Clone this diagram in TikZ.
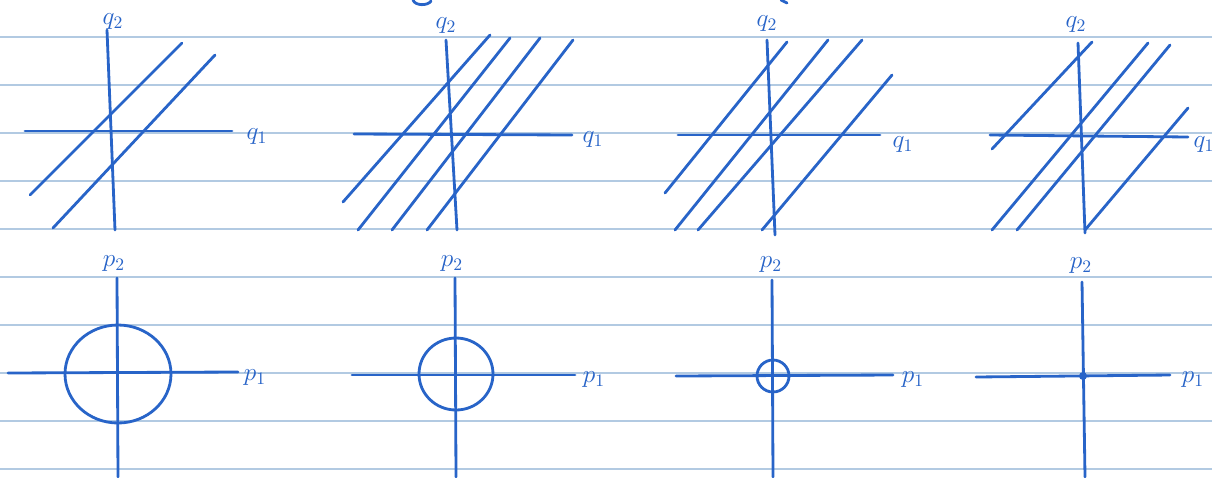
\documentclass[tikz,border=0pt]{standalone}
\definecolor{ink}{RGB}{40,100,200}
\definecolor{ruling}{RGB}{178,202,226}
\begin{document}
\begin{tikzpicture}[x=0.02cm,y=-0.02cm,
  pen/.style={draw=ink, line width=1.6pt, line cap=round},
  lbl/.style={text=ink, inner sep=0pt, font=\fontsize{14}{14}\selectfont}]
\useasboundingbox (0,0) rectangle (1212,477);
\fill[white] (0,0) rectangle (1212,477);
% ruled paper
\foreach \y in {37,85,...,469}
  \draw[ruling, line width=0.8pt] (0,\y) -- (1212,\y);
% bits of writing cut off above
\draw[pen] (413,0) .. controls (415,6) and (428,6) .. (431,1);
\draw[pen] (781,0) -- (787,3);

% top row: q plane
\node[lbl] (q2a) at (113,22) {$q_2$};
\node[lbl] (q1a) at (257,137) {$q_1$};
\draw[pen] (107,30) -- (115,230);
\draw[pen] (25,131) -- (232,131);
\draw[pen] (30,195) -- (182,43);
\draw[pen] (53,228) -- (215,55);

\node[lbl] (q2b) at (446,26) {$q_2$};
\node[lbl] (q1b) at (593,140) {$q_1$};
\draw[pen] (446,40) -- (457,230);
\draw[pen] (354,134) -- (572,135);
\draw[pen] (343,202) -- (490,35);
\draw[pen] (358,230) -- (510,38);
\draw[pen] (392,230) -- (540,38);
\draw[pen] (427,230) -- (573,40);

\node[lbl] (q2c) at (767,24) {$q_2$};
\node[lbl] (q1c) at (903,145) {$q_1$};
\draw[pen] (767,40) -- (775,235);
\draw[pen] (678,135) -- (880,135);
\draw[pen] (665,193) -- (787,42);
\draw[pen] (675,230) -- (828,40);
\draw[pen] (698,230) -- (862,40);
\draw[pen] (762,230) -- (892,75);

\node[lbl] (q2d) at (1076,25) {$q_2$};
\node[lbl] (q1d) at (1204,145) {$q_1$};
\draw[pen] (1078,43) -- (1085,233);
\draw[pen] (990,135) -- (1188,137);
\draw[pen] (992,149) -- (1092,42);
\draw[pen] (992,230) -- (1148,43);
\draw[pen] (1017,230) -- (1170,45);
\draw[pen] (1085,230) -- (1188,108);

% bottom row: p plane
\node[lbl] (p2a) at (114,264) {$p_2$};
\node[lbl] (p1a) at (255,378) {$p_1$};
\draw[pen] (117,278) -- (118,477);
\draw[pen] (8,373) -- (238,372);
\draw[pen] (118,374) ellipse [x radius=53, y radius=49];

\node[lbl] (p2b) at (452,264) {$p_2$};
\node[lbl] (p1b) at (594,380) {$p_1$};
\draw[pen] (455,278) -- (456,477);
\draw[pen] (352,375) -- (575,375);
\draw[pen] (456,374) ellipse [x radius=37, y radius=36];

\node[lbl] (p2c) at (771,265) {$p_2$};
\node[lbl] (p1c) at (913,380) {$p_1$};
\draw[pen] (772,280) -- (773,477);
\draw[pen] (676,376) -- (893,375);
\draw[pen] (773,376) circle [radius=16];

\node[lbl] (p2d) at (1081,266) {$p_2$};
\node[lbl] (p1d) at (1193,380) {$p_1$};
\draw[pen] (1082,282) -- (1085,477);
\draw[pen] (976,377) -- (1170,375);
\fill[ink] (1083,376) circle [radius=4];
\end{tikzpicture}
\end{document}
